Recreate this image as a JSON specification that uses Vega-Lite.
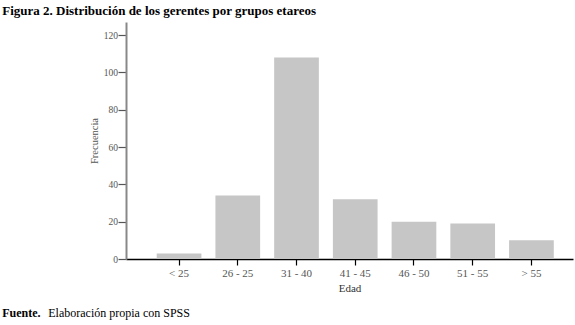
{
  "$schema": "https://vega.github.io/schema/vega-lite/v6.json",
  "padding": {"left": 2, "top": 5, "right": 2, "bottom": 2},
  "background": "white",
  "config": {"view": {"stroke": null}, "concat": {"spacing": 0}},
  "title": {
    "text": "Figura 2. Distribución de los gerentes por grupos etareos",
    "anchor": "start",
    "font": "Liberation Serif",
    "fontSize": 13,
    "fontWeight": "bold",
    "color": "#000000",
    "dx": 0,
    "offset": 4
  },
  "vconcat": [
    {
      "title": {
        "text": "Fuente.",
        "orient": "bottom",
        "anchor": "start",
        "font": "Liberation Serif",
        "fontSize": 12,
        "fontWeight": "bold",
        "color": "#000000",
        "dx": -46,
        "dy": -15
      },
      "vconcat": [
        {
          "title": {
            "text": "Elaboración propia con SPSS",
            "orient": "bottom",
            "anchor": "start",
            "font": "Liberation Serif",
            "fontSize": 12,
            "fontWeight": "normal",
            "color": "#000000",
            "dx": -41,
            "offset": 15
          },
          "width": 447,
          "height": 237,
          "data": {
            "values": [
              {"edad": "< 25", "frecuencia": 3},
              {"edad": "26 - 25", "frecuencia": 34},
              {"edad": "31 - 40", "frecuencia": 108},
              {"edad": "41 - 45", "frecuencia": 32},
              {"edad": "46 - 50", "frecuencia": 20},
              {"edad": "51 - 55", "frecuencia": 19},
              {"edad": "> 55", "frecuencia": 10}
            ]
          },
          "mark": {"type": "bar", "color": "#c6c6c6"},
          "encoding": {
            "x": {
              "field": "edad",
              "type": "nominal",
              "sort": null,
              "scale": {"paddingInner": 0.239, "paddingOuter": 0.425, "align": 0.615, "round": false},
              "axis": {
                "title": "Edad",
                "labelAngle": 0,
                "domainColor": "#000000",
                "domainWidth": 1.5,
                "tickColor": "#000000",
                "tickWidth": 1.2,
                "tickSize": 6,
                "labelFont": "Liberation Serif",
                "labelFontSize": 11,
                "labelColor": "#555555",
                "labelPadding": 2,
                "titleFont": "Liberation Serif",
                "titleFontSize": 11,
                "titleFontWeight": "normal",
                "titleColor": "#333333",
                "titlePadding": 4
              }
            },
            "y": {
              "field": "frecuencia",
              "type": "quantitative",
              "scale": {"domain": [0, 127], "nice": false},
              "axis": {
                "title": "Frecuencia",
                "values": [0, 20, 40, 60, 80, 100, 120],
                "grid": false,
                "domainColor": "#888888",
                "domainWidth": 2,
                "tickColor": "#555555",
                "tickWidth": 1.2,
                "tickSize": 8,
                "labelFont": "Liberation Serif",
                "labelFontSize": 9.5,
                "labelColor": "#555555",
                "labelPadding": 0.5,
                "titleFont": "Liberation Serif",
                "titleFontSize": 10.5,
                "titleFontWeight": "normal",
                "titleColor": "#555555",
                "titlePadding": 4
              }
            }
          }
        }
      ]
    }
  ]
}
